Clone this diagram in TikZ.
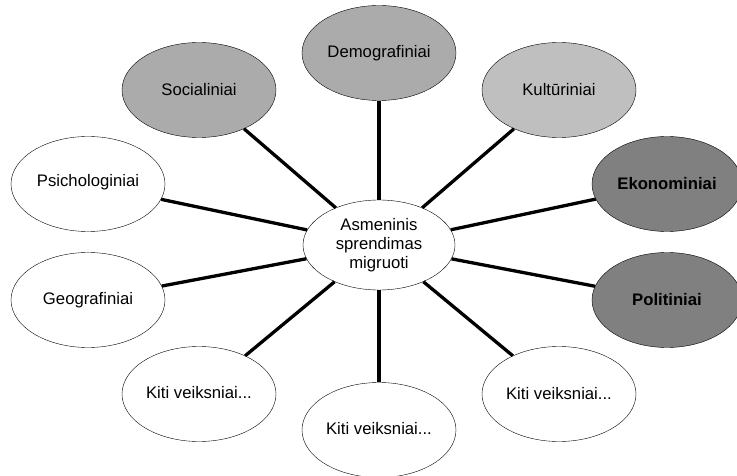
\documentclass[tikz,border=0pt]{standalone}
\usepackage{fontspec}
\setmainfont{Liberation Sans}
\usepackage{tikz}
\tikzset{>=latex}
\usetikzlibrary{shapes.geometric,positioning}
\definecolor{darkfill}{gray}{0.67}
\definecolor{lightfill}{gray}{0.75}
\definecolor{strongfill}{gray}{0.5}

\begin{document}
\begin{tikzpicture}[x=1pt,y=-1pt,
        factor/.style={ellipse, draw=black, thin, inner sep=0pt, minimum width=154pt, minimum height=95pt, font=\fontsize{16.7}{19}\selectfont, align=center},
        link/.style={line width=3.3pt}]
            \useasboundingbox (0,0) rectangle (737,476);
            \node[factor, minimum width=152pt, minimum height=90pt] (mid) at (379,245) {Asmeninis\\sprendimas\\migruoti};

            \node[factor, fill=darkfill] (dem) at (379,53) {Demografiniai};
            \node[factor, fill=darkfill] (soc) at (199,90) {Socialiniai};
            \node[factor, fill=lightfill] (kul) at (559,90) {Kult\={u}riniai};
            \node[factor] (psi) at (88,184) {\raisebox{7pt}{Psichologiniai}};
            \node[factor, fill=strongfill, minimum width=150pt] (eko) at (667,184) {\textbf{Ekonominiai}};
            \node[factor] (geo) at (88,300) {Geografiniai};
            \node[factor, fill=strongfill, minimum width=150pt] (pol) at (667,300) {\textbf{Politiniai}};
            \node[factor] (kitiL) at (199,394) {\raisebox{3pt}{Kiti veiksniai...}};
            \node[factor] (kitiB) at (379,430) {\raisebox{3pt}{Kiti veiksniai...}};
            \node[factor] (kitiR) at (559,394) {Kiti veiksniai...};

            \foreach \n in {dem,soc,kul,psi,eko,geo,pol,kitiL,kitiB,kitiR}
                \draw[link] (mid) -- (\n);
        \end{tikzpicture}
\end{document}
